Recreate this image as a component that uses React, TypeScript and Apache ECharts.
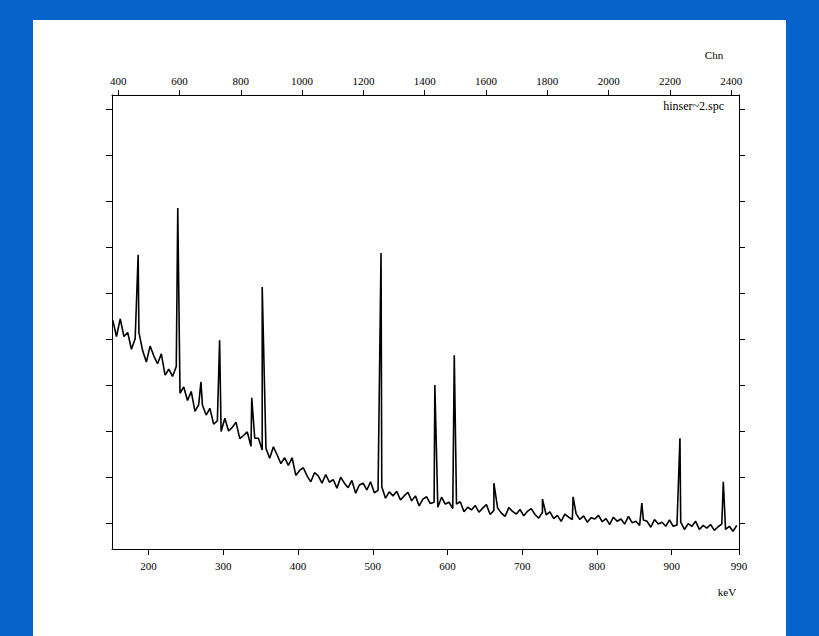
import React, { useEffect, useRef } from "react";
import * as echarts from "echarts";

// Spectrum continuum: counts per 5 keV bin, first bin at 152 keV
const binStartKeV = 152;
const binWidthKeV = 5;
const continuumCounts = [
  504, 468, 507, 468, 477, 440, 463, 477, 437, 412,
  447, 425, 408, 430, 383, 396, 380, 402, 343, 357,
  327, 347, 303, 318, 317, 295, 310, 275, 282, 259,
  288, 260, 268, 279, 243, 250, 258, 226, 244, 244,
  218, 222, 200, 225, 207, 188, 201, 184, 201, 162,
  173, 179, 161, 148, 168, 161, 145, 164, 147, 153,
  134, 158, 145, 135, 151, 123, 141, 145, 130, 148,
  124, 129, 137, 112, 126, 117, 127, 108, 117, 125,
  106, 117, 95, 110, 115, 100, 103, 92, 114, 99,
  103, 89, 99, 104, 82, 92, 86, 96, 81, 90,
  98, 76, 85, 90, 79, 72, 91, 83, 77, 87,
  73, 83, 89, 76, 68, 81, 75, 82, 67, 74,
  61, 77, 70, 65, 78, 65, 73, 59, 69, 66,
  74, 60, 67, 54, 70, 61, 66, 55, 72, 58,
  61, 52, 64, 61, 48, 65, 55, 59, 50, 64,
  50, 53, 59, 43, 56, 50, 61, 43, 52, 46,
  54, 41, 49, 55, 43, 50, 39, 52,
];

// Peaks: energies (keV) and peak-top counts
const peakEnergies = [186, 239, 270, 295, 338, 352, 511, 583, 609, 662, 727, 768, 860, 911, 969];
const peakCounts = [648, 751, 368, 460, 333, 577, 652, 361, 427, 145, 110, 115, 101, 244, 148];

// Axis ticks
const keVTicks = [200, 300, 400, 500, 600, 700, 800, 900, 990];
const chnTicks = [400, 600, 800, 1000, 1200, 1400, 1600, 1800, 2000, 2200, 2400];
const countTicks = [57, 158, 260, 361, 462, 564, 665, 767, 868, 969];
const keVRange = [151, 990];
const chnRange = [380, 2425];
const countRange = [0, 1000];

const fileLabel = "hinser~2.spc";

export default function App() {
  const ref = useRef<HTMLDivElement>(null);
  useEffect(() => {
    if (!ref.current) return;
    const chart = echarts.init(ref.current, undefined, { renderer: "svg" });
    const pts: [number, number][] = continuumCounts.map((c, i) => [binStartKeV + i * binWidthKeV, c]);
    peakEnergies.forEach((e, i) => pts.push([e, peakCounts[i]]));
    pts.sort((a, b) => a[0] - b[0]);

    const font = "'Liberation Serif', 'DejaVu Serif', serif";
    const axisLine = { show: true, onZero: false, lineStyle: { color: "#000", width: 1 } };
    const fmt = (v: number) => String(v);
    const yAxisBase = (position: string) => ({
      type: "value",
      position,
      min: countRange[0],
      max: countRange[1],
      axisLine,
      axisTick: { show: true, length: 6, customValues: countTicks, lineStyle: { color: "#000" } },
      axisLabel: { show: false },
      splitLine: { show: false },
    });
    chart.setOption({
      animation: false,
      backgroundColor: "#0563c9",
      grid: { left: 112, right: 80, top: 95, bottom: 87, containLabel: false },
      xAxis: [
        {
          type: "value",
          position: "bottom",
          min: keVRange[0],
          max: keVRange[1],
          axisLine,
          axisTick: { show: true, length: 6, customValues: keVTicks, lineStyle: { color: "#000" } },
          axisLabel: { show: true, customValues: keVTicks, formatter: fmt, margin: 11, color: "#000", fontFamily: font, fontSize: 11 },
          splitLine: { show: false },
        },
        {
          type: "value",
          position: "top",
          min: chnRange[0],
          max: chnRange[1],
          axisLine,
          axisTick: { show: true, length: 5, customValues: chnTicks, lineStyle: { color: "#000" } },
          axisLabel: { show: true, customValues: chnTicks, formatter: fmt, margin: 9, color: "#000", fontFamily: font, fontSize: 11 },
          splitLine: { show: false },
        },
      ],
      yAxis: [yAxisBase("left"), yAxisBase("right")],
      graphic: [
        { type: "rect", z: -10, silent: true, shape: { x: 33, y: 20, width: 753, height: 616 }, style: { fill: "#ffffff" } },
        { type: "text", z: 10, x: 714, y: 55, style: { text: "Chn", fill: "#000", font: `11px ${font}`, textAlign: "center", textVerticalAlign: "middle" } },
        { type: "text", z: 10, x: 727, y: 592, style: { text: "keV", fill: "#000", font: `11px ${font}`, textAlign: "center", textVerticalAlign: "middle" } },
        { type: "text", z: 10, x: 724, y: 106, style: { text: fileLabel, fill: "#000", font: `12px ${font}`, textAlign: "right", textVerticalAlign: "middle" } },
      ],
      series: [
        {
          type: "line",
          xAxisIndex: 0,
          yAxisIndex: 0,
          data: pts,
          symbol: "none",
          showSymbol: false,
          lineStyle: { color: "#000", width: 1.6 },
          silent: true,
        },
      ],
    });
    return () => chart.dispose();
  }, []);
  return <div ref={ref} style={{ position: "fixed", left: 0, top: 0, width: 819, height: 636 }} />;
}
